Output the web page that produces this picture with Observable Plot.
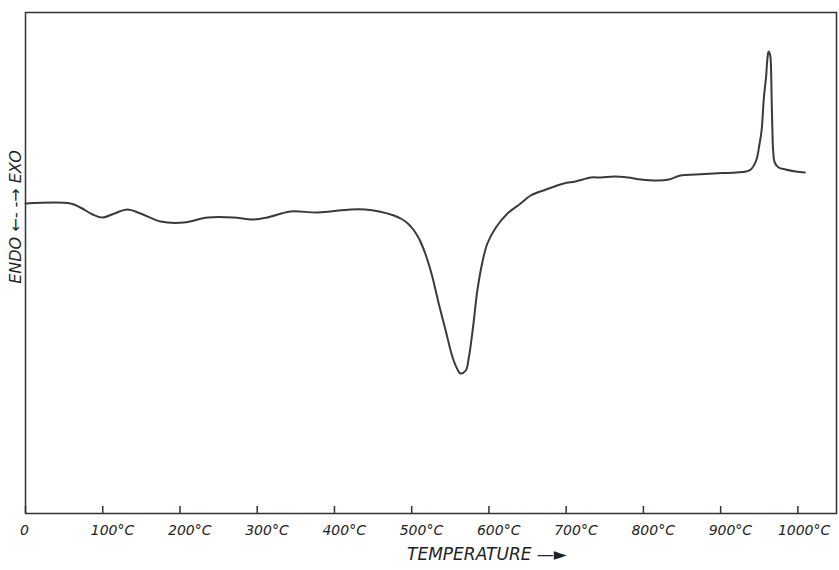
<!DOCTYPE html>
<html>
<head>
<meta charset="utf-8">
<script src="https://cdn.jsdelivr.net/npm/d3@7"></script>
<script src="https://cdn.jsdelivr.net/npm/@observablehq/plot@0.6"></script>
<style>
  html, body { margin: 0; padding: 0; background: #fff; }
  #chart svg { display: block; }
</style>
</head>
<body>
<div id="chart"></div>
<script>
// Temperature (°C) of each traced point of the DTA curve
const temperature = [0, 58, 71, 87, 100, 115, 132, 149, 175, 205, 236, 269, 295, 313, 343, 378, 421, 440, 458, 477, 487, 495, 502, 508, 513, 518, 523, 527, 535, 544, 553, 560, 563, 570, 574, 580, 585, 592, 598, 609, 624, 641, 654, 674, 697, 712, 732, 745, 762, 780, 797, 819, 833, 848, 868, 891, 920, 933, 939, 946, 950, 953, 956, 959, 960, 961, 962, 964, 965, 966, 967, 968, 970, 975, 984, 997, 1009];
// Differential signal (arbitrary units, up = exothermic)
const signal = [310, 310, 306, 299, 296, 300, 304, 300, 292, 291, 296, 296, 294, 296, 302, 301, 304, 304, 302, 298, 294.5, 290, 284, 277, 269, 259, 247, 236, 210, 183, 156, 143, 140, 143, 156, 190, 223, 253, 270, 286, 300, 310, 318, 324, 330, 332, 336, 336, 337, 336, 334, 333, 334, 338, 339, 340, 341, 342, 344, 353, 368, 383, 416, 438, 450, 458, 462, 459, 450, 416, 383, 363, 351, 346, 344, 342, 341];
const tickValues = [0, 100, 200, 300, 400, 500, 600, 700, 800, 900, 1000];
const xTitle = "TEMPERATURE —►";
const yTitle = "ENDO ←- -→ EXO";

const data = temperature.map((t, i) => ({t, v: signal[i]}));
const fmt = d => d === 0 ? "0" : d + "°C";
const font = "DejaVu Sans, sans-serif";

const chart = Plot.plot({
  width: 839,
  height: 570,
  marginLeft: 25,
  marginRight: 3,
  marginTop: 12,
  marginBottom: 57,
  style: {fontFamily: font, background: "#fff"},
  x: {domain: [0, 1050]},
  y: {domain: [0, 501]},
  marks: [
    Plot.frame({stroke: "#333", strokeWidth: 1.5}),
    Plot.axisX(tickValues, {tickSize: -7, stroke: "#333", strokeWidth: 1.5, text: null, label: null}),
    Plot.axisY({ticks: [], label: null, text: null}),
    Plot.text(tickValues.filter(d => d === 0), {x: d => d, y: 0, text: fmt, dy: 17, textAnchor: "middle", dx: -1,
      fontSize: 14, fontStyle: "italic", fill: "#222"}),
    Plot.text(tickValues.filter(d => d > 0 && d < 1000), {x: d => d, y: 0, text: fmt, dy: 17, textAnchor: "start", dx: -12,
      fontSize: 14, fontStyle: "italic", fill: "#222"}),
    Plot.text(tickValues.filter(d => d >= 1000), {x: d => d, y: 0, text: fmt, dy: 17, textAnchor: "start", dx: -20,
      fontSize: 14, fontStyle: "italic", fill: "#222"}),
    Plot.text([xTitle], {frameAnchor: "bottom", text: d => d, dy: 46, dx: 56, fontSize: 17, fontStyle: "italic",
      fill: "#222", textAnchor: "middle", style: "letter-spacing:3.5px"}),
    Plot.text([yTitle], {frameAnchor: "left", text: d => d, rotate: -90, dx: -10, dy: -46, fontSize: 16, fontStyle: "italic",
      fill: "#222", textAnchor: "middle", style: "letter-spacing:2.5px"}),
    Plot.line(data, {x: "t", y: "v", curve: "catmull-rom", stroke: "#3a3a3a", strokeWidth: 2})
  ]
});
document.getElementById("chart").append(chart);
</script>
</body>
</html>
